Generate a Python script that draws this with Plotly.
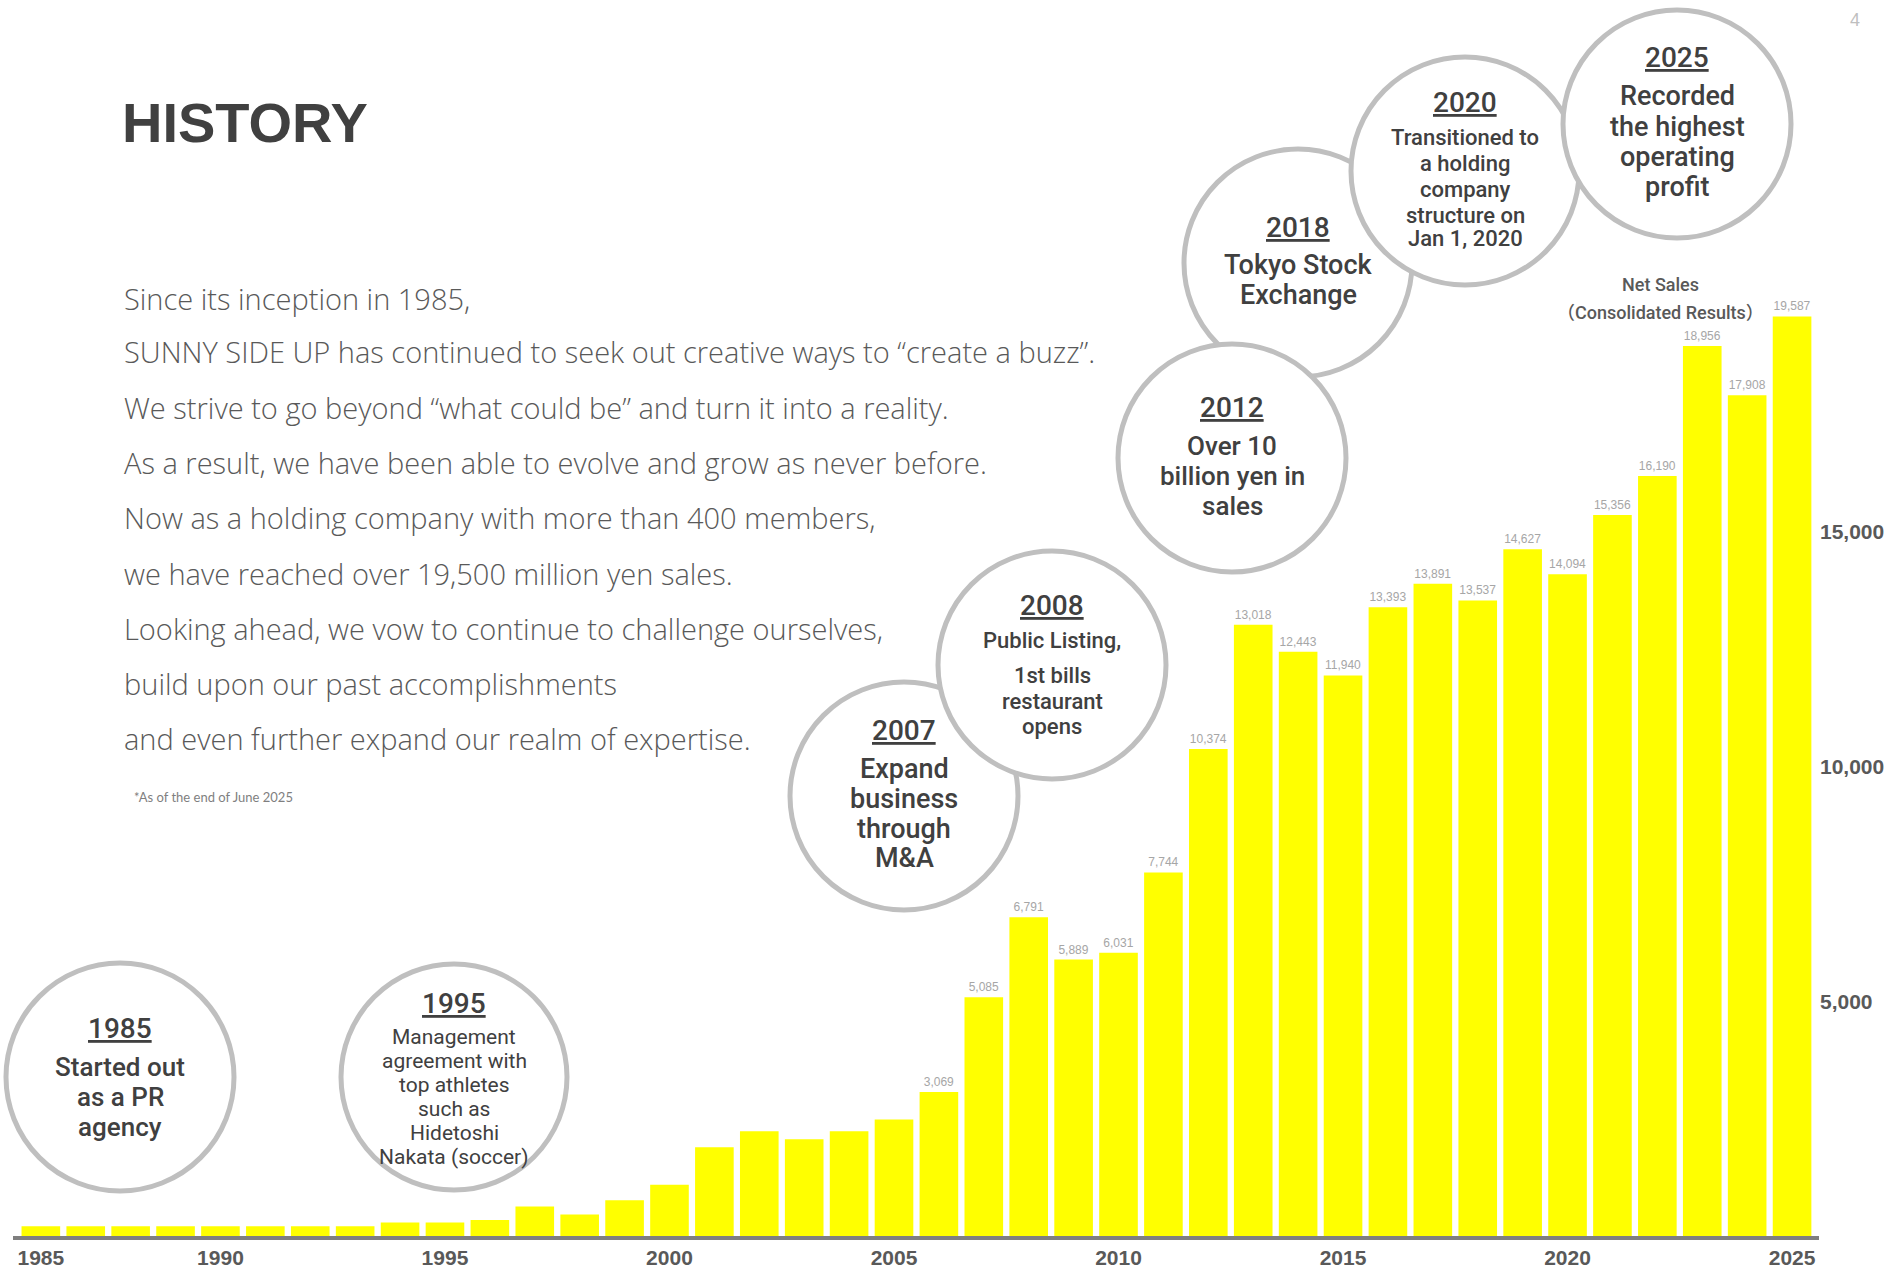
import plotly.graph_objects as go

# ---------------- data ----------------
years = list(range(1986, 2026))
net_sales = [210, 210, 210, 210, 210, 210, 210, 210, 290, 290,
             340, 630, 460, 760, 1090, 1890, 2230, 2060, 2230, 2480,
             3069, 5085, 6791, 5889, 6031, 7744, 10374, 13018, 12443, 11940,
             13393, 13891, 13537, 14627, 14094, 15356, 16190, 18956, 17908, 19587]
first_labeled_year = 2006
x_tick_years = [1986, 1990, 1995, 2000, 2005, 2010, 2015, 2020, 2025]
x_tick_labels = ["1985", "1990", "1995", "2000", "2005", "2010", "2015", "2020", "2025"]
y_tick_values = [5000, 10000, 15000]

paragraph = [
    "Since its inception in 1985,",
    "SUNNY SIDE UP has continued to seek out creative ways to \u201ccreate a buzz\u201d.",
    "We strive to go beyond \u201cwhat could be\u201d and turn it into a reality.",
    "As a result, we have been able to evolve and grow as never before.",
    "Now as a holding company with more than 400 members,",
    "we have reached over 19,500 million yen sales.",
    "Looking ahead, we vow to continue to challenge ourselves,",
    "build upon our past accomplishments",
    "and even further expand our realm of expertise.",
]

events = [
    # year, lines, font size, weight
    ("1985", ["Started out", "as a PR", "agency"], 26, 500),
    ("1995", ["Management", "agreement with", "top athletes", "such as", "Hidetoshi", "Nakata (soccer)"], 21, 400),
    ("2007", ["Expand", "business", "through", "M&A"], 27, 500),
    ("2008", ["Public Listing,", "1st bills", "restaurant", "opens"], 22, 500),
    ("2018", ["Tokyo Stock", "Exchange"], 27, 500),
    ("2012", ["Over 10", "billion yen in", "sales"], 26, 500),
    ("2020", ["Transitioned to", "a holding", "company", "structure on", "Jan 1, 2020"], 22, 500),
    ("2025", ["Recorded", "the highest", "operating", "profit"], 27, 500),
]

# ---------------- layout geometry (page pixels) ----------------
W, H = 1890, 1269


def px(X):
    return X / W


def py(Y):
    return 1 - Y / H


circle_geom = {
    # cx, cy, r, year_y, line ys
    "1985": (120, 1077, 114, 1028, [1067, 1097, 1127]),
    "1995": (454, 1077, 113, 1003, [1037, 1061, 1085, 1109, 1133, 1157]),
    "2007": (904, 796, 114, 730, [769, 799, 829, 858]),
    "2008": (1052, 665, 114, 605, [641, 675, 701, 726]),
    "2018": (1298, 263, 114, 227, [265, 295]),
    "2012": (1232, 458, 114, 407, [446, 476, 506]),
    "2020": (1465, 171, 114, 102, [137, 164, 189, 215, 239]),
    "2025": (1677, 124, 114, 58, [96, 127, 157, 187]),
}

DARK = "#404040"
MID = "#595959"
CIRCLE_FONT = "Roboto, Noto Sans, sans-serif"

bar_text = [f"{v:,}" if y >= first_labeled_year else "" for y, v in zip(years, net_sales)]

fig = go.Figure()
fig.add_trace(go.Bar(
    x=years, y=net_sales,
    marker=dict(color="#FFFF00", line=dict(width=0)),
    text=bar_text, textposition="outside", cliponaxis=False,
    constraintext="none", textangle=0,
    textfont=dict(family="Liberation Sans, Arial, sans-serif", size=12, color="#a6a6a6"),
    hoverinfo="x+y", showlegend=False,
))

shapes = []
annotations = []

for year, lines, fsize, weight in events:
    cx, cy, r, year_y, line_ys = circle_geom[year]
    shapes.append(dict(
        type="circle", xref="paper", yref="paper", layer="above",
        x0=px(cx - r), x1=px(cx + r), y0=py(cy + r), y1=py(cy - r),
        line=dict(color="#bfbfbf", width=5), fillcolor="white",
    ))
    annotations.append(dict(
        text=f"<u>{year}</u>", x=px(cx), y=py(year_y), xref="paper", yref="paper",
        xanchor="center", yanchor="middle", showarrow=False,
        font=dict(family=CIRCLE_FONT, size=28, color=DARK, weight=500),
    ))
    for ln, ly in zip(lines, line_ys):
        annotations.append(dict(
            text=ln, x=px(cx), y=py(ly), xref="paper", yref="paper",
            xanchor="center", yanchor="middle", showarrow=False,
            font=dict(family=CIRCLE_FONT, size=fsize, color=DARK, weight=weight),
        ))

# title
annotations.append(dict(
    text="HISTORY", x=px(120), y=py(122), xref="paper", yref="paper",
    xanchor="left", yanchor="middle", showarrow=False,
    font=dict(family="Liberation Sans, Arial, sans-serif", size=56, color=DARK, weight="bold"),
))

# paragraph
para_ys = [298, 352, 407, 462, 517, 573, 628, 683, 739]
for ln, ly in zip(paragraph, para_ys):
    annotations.append(dict(
        text=ln, x=px(122), y=py(ly), xref="paper", yref="paper",
        xanchor="left", yanchor="middle", showarrow=False,
        font=dict(family="Open Sans, Lato, sans-serif", size=29, color=MID, weight=300),
    ))

annotations.append(dict(
    text="*As of the end of June 2025", x=px(132), y=py(797), xref="paper", yref="paper",
    xanchor="left", yanchor="middle", showarrow=False,
    font=dict(family="Lato, sans-serif", size=13, color="#7f7f7f"),
))

annotations.append(dict(
    text="Net Sales", x=px(1660), y=py(284), xref="paper", yref="paper",
    xanchor="center", yanchor="middle", showarrow=False,
    font=dict(family="Roboto, Noto Sans CJK JP, sans-serif", size=18, color=MID, weight=500),
))
annotations.append(dict(
    text="\uff08Consolidated Results\uff09", x=px(1660), y=py(312), xref="paper", yref="paper",
    xanchor="center", yanchor="middle", showarrow=False,
    font=dict(family="Roboto, Noto Sans CJK JP, sans-serif", size=18, color=MID, weight=500),
))

annotations.append(dict(
    text="4", x=px(1855), y=py(20), xref="paper", yref="paper",
    xanchor="center", yanchor="middle", showarrow=False,
    font=dict(family="Liberation Sans, Arial, sans-serif", size=18, color="#bfbfbf"),
))

fig.update_layout(
    width=W, height=H,
    margin=dict(l=0, r=0, t=0, b=0),
    paper_bgcolor="white", plot_bgcolor="white",
    bargap=0.14,
    shapes=shapes, annotations=annotations,
    xaxis=dict(
        range=[1985.38, 2025.6], domain=[px(13), px(1819)],
        showline=True, linecolor="#7f7f7f", linewidth=4,
        showgrid=False, zeroline=False, ticks="",
        tickvals=x_tick_years, ticktext=x_tick_labels,
        tickfont=dict(family="Liberation Sans Narrow, Arial Narrow, Liberation Sans, sans-serif",
                      size=21, color=MID, weight="bold"),
    ),
    yaxis=dict(
        range=[0, 21300], domain=[py(1236), py(236)],
        side="right", showgrid=False, zeroline=False, showline=False, ticks="",
        tickvals=y_tick_values, tickformat=",",
        tickfont=dict(family="Liberation Sans, Arial, sans-serif", size=21, color=MID, weight="bold"),
    ),
)

fig.write_html(
    "out.html",
    config={"displayModeBar": False},
    post_script="document.body.style.margin='0';document.body.style.overflow='hidden';",
)
